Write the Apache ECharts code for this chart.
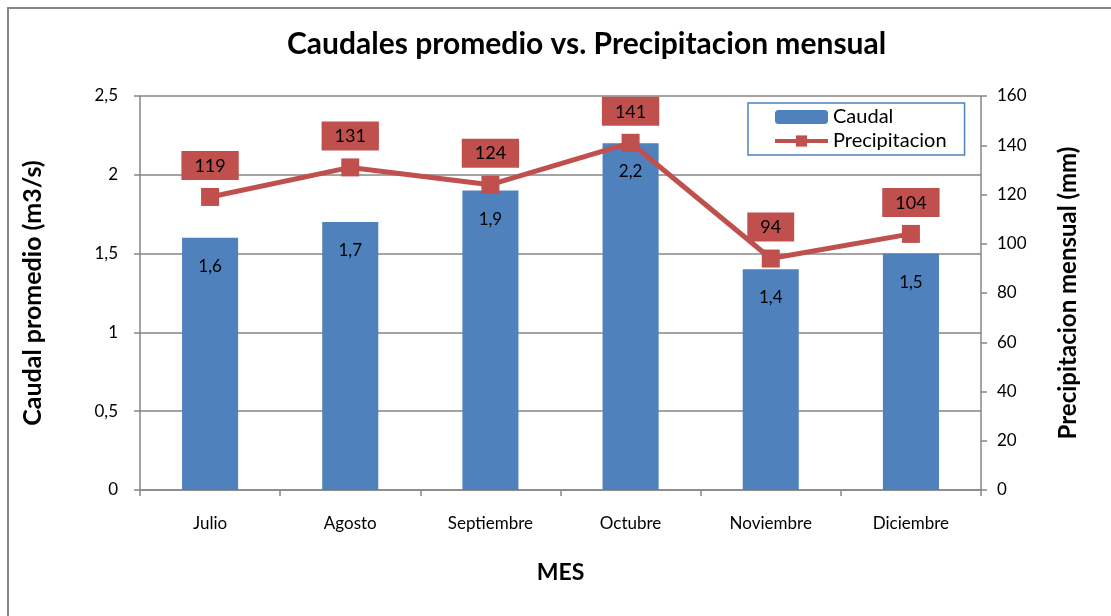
<!DOCTYPE html>
<html>
<head>
<meta charset="utf-8">
<script src="https://cdn.jsdelivr.net/npm/echarts@6/dist/echarts.min.js"></script>
<style>
  html, body { margin: 0; padding: 0; background: #fff; }
  #chart { width: 1111px; height: 616px; }
</style>
</head>
<body>
<div id="chart"></div>
<script>
const months = ["Julio", "Agosto", "Septiembre", "Octubre", "Noviembre", "Diciembre"];
const caudal = [1.6, 1.7, 1.9, 2.2, 1.4, 1.5];
const precipitacion = [119, 131, 124, 141, 94, 104];

const FONT = "Lato";
const comma = v => String(v).replace('.', ',');

const chart = echarts.init(document.getElementById("chart"));
chart.setOption({
  animation: false,
  textStyle: { fontFamily: FONT, color: "#000" },
  graphic: [{
    type: "rect",
    shape: { x: 8, y: 8, width: 1200, height: 700 },
    style: { fill: "none", stroke: "#868686", lineWidth: 2 },
    silent: true
  }],
  title: {
    text: "Caudales promedio vs. Precipitacion mensual",
    left: 282,
    top: 24,
    textStyle: { fontFamily: FONT, fontSize: 30, fontWeight: "bold", color: "#000" }
  },
  legend: {
    orient: "vertical",
    left: 748,
    top: 103,
    padding: [4, 18, 4, 25],
    itemGap: 4,
    itemWidth: 53,
    itemHeight: 14,
    borderColor: "#4F81BD",
    borderWidth: 1.5,
    lineStyle: { width: 4 },
    textStyle: { fontFamily: FONT, fontSize: 20, color: "#000" },
    data: ["Caudal", "Precipitacion"]
  },
  grid: { left: 140, right: 130, top: 96, bottom: 126 },
  xAxis: {
    type: "category",
    data: months,
    name: "MES",
    nameLocation: "middle",
    nameGap: 71,
    nameTextStyle: { fontFamily: FONT, fontSize: 23, fontWeight: "bold", color: "#000" },
    axisLine: { lineStyle: { color: "#868686", width: 1.5 } },
    axisTick: { show: true, length: 6, lineStyle: { color: "#868686", width: 1.5 } },
    axisLabel: { fontFamily: FONT, fontSize: 17, color: "#000", margin: 25 }
  },
  yAxis: [{
    type: "value",
    min: 0,
    max: 2.5,
    interval: 0.5,
    name: "Caudal promedio (m3/s)",
    nameLocation: "middle",
    nameGap: 95,
    nameTextStyle: { fontFamily: FONT, fontSize: 25, fontWeight: "bold", color: "#000" },
    axisLine: { show: true, lineStyle: { color: "#868686", width: 1.5 } },
    axisTick: { show: true, length: 6, lineStyle: { color: "#868686", width: 1.5 } },
    axisLabel: { fontFamily: FONT, fontSize: 17, color: "#000", margin: 22, formatter: v => comma(v) },
    splitLine: { show: true, lineStyle: { color: "#868686", width: 1.5 } }
  }, {
    type: "value",
    min: 0,
    max: 160,
    interval: 20,
    name: "Precipitacion mensual (mm)",
    nameLocation: "middle",
    nameGap: 75,
    nameTextStyle: { fontFamily: FONT, fontSize: 24, fontWeight: "bold", color: "#000" },
    axisLine: { show: true, lineStyle: { color: "#868686", width: 1.5 } },
    axisTick: { show: true, length: 6, lineStyle: { color: "#868686", width: 1.5 } },
    axisLabel: { fontFamily: FONT, fontSize: 17, color: "#000", margin: 16 },
    splitLine: { show: false }
  }],
  series: [{
    name: "Caudal",
    type: "bar",
    data: caudal,
    barWidth: "40%",
    itemStyle: { color: "#4F81BD" },
    label: {
      show: true,
      position: "insideTop",
      distance: 20,
      fontFamily: FONT,
      fontSize: 17,
      color: "#000",
      formatter: p => comma(p.value)
    }
  }, {
    name: "Precipitacion",
    type: "line",
    yAxisIndex: 1,
    data: precipitacion,
    symbol: "rect",
    symbolSize: 18,
    lineStyle: { color: "#C0504D", width: 5 },
    itemStyle: { color: "#C0504D" },
    label: {
      show: true,
      position: "top",
      distance: 8,
      fontFamily: FONT,
      fontSize: 18,
      color: "#000",
      backgroundColor: "#C0504D",
      padding: [6, 13, 5, 13]
    }
  }]
});
</script>
</body>
</html>
